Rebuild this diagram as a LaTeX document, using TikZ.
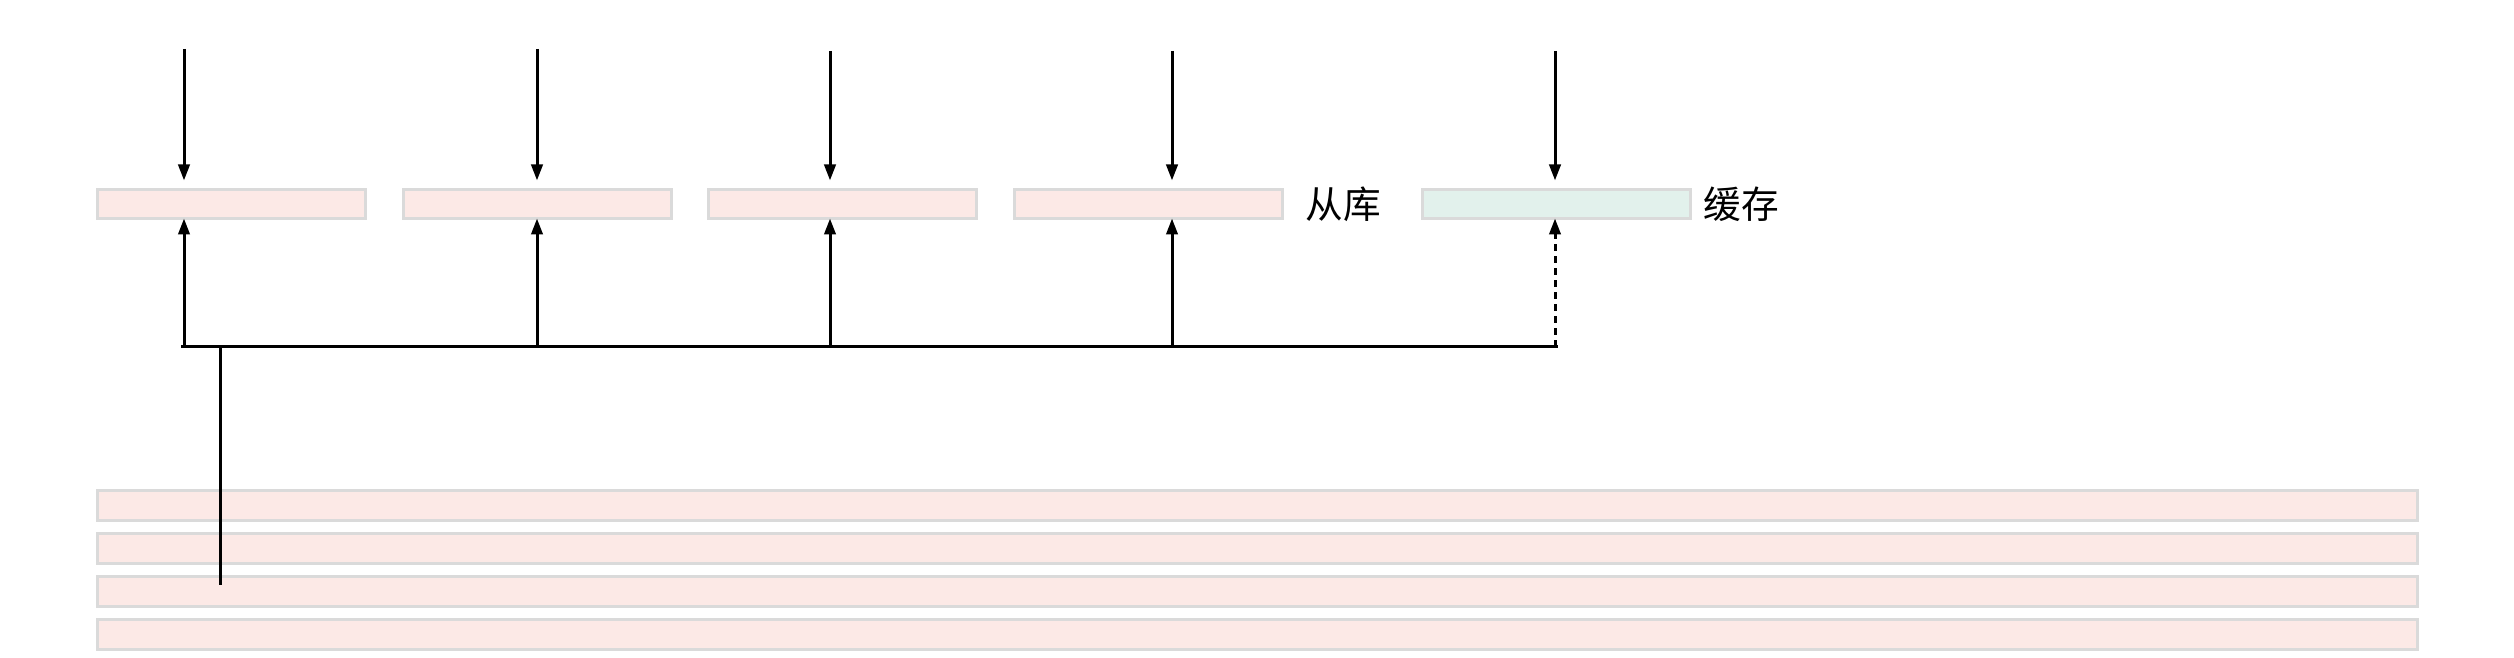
\documentclass[tikz,border=0pt]{standalone}
\usepackage{fontspec}
\newfontfamily\cjk{Noto Sans CJK SC}
\usetikzlibrary{arrows.meta}
\definecolor{pinkfill}{HTML}{FCE9E6}
\definecolor{greenfill}{HTML}{E2F1EC}
\definecolor{boxborder}{HTML}{DADADA}
\tikzset{
  slot/.style={draw=boxborder, line width=0.9pt, minimum width=268*0.3pt, minimum height=29*0.3pt, inner sep=0pt, outer sep=0pt},
  pinkslot/.style={slot, fill=pinkfill},
  greenslot/.style={slot, fill=greenfill},
  longslot/.style={draw=boxborder, line width=0.9pt, fill=pinkfill, minimum width=2320*0.3pt, minimum height=30*0.3pt, inner sep=0pt, outer sep=0pt},
  arr/.style={line width=0.9pt, -{Triangle[length=4.8pt,width=3.4pt]}},
  wire/.style={line width=0.9pt},
  lbl/.style={font=\cjk\fontsize{11.3}{13}\selectfont, anchor=west, inner sep=0pt}
}
\begin{document}
\begin{tikzpicture}[x=0.3pt, y=-0.3pt]
\useasboundingbox (0,0) rectangle (2514,658);
% top row
\node[pinkslot] (b1) at (231.5,204) {};
\node[pinkslot] (b2) at (537,204) {};
\node[pinkslot] (b3) at (842.5,204) {};
\node[pinkslot] (b4) at (1148.5,204) {};
\node[greenslot] (b5) at (1556,204) {};
\node[lbl] (l1) at (1305,204) {从库};
\node[lbl] (l2) at (1703,204) {缓存};
% bottom boxes
\node[longslot] (r1) at (1257.5,506) {};
\node[longslot] (r2) at (1257.5,549) {};
\node[longslot] (r3) at (1257.5,592) {};
\node[longslot] (r4) at (1257.5,635) {};
% top arrows
\coordinate (t1) at (184,49);
\coordinate (t2) at (537,49);
\coordinate (t3) at (830,51);
\coordinate (t4) at (1172,51);
\coordinate (t5) at (1555,51);
\foreach \i in {1,...,5}{
  \draw[arr, shorten >=2.7pt] (t\i) -- (t\i |- b\i.north);
}
% bus
\coordinate (u1) at (184,347);
\coordinate (u2) at (537,347);
\coordinate (u3) at (830,347);
\coordinate (u4) at (1172,347);
\coordinate (u5) at (1555,347);
\coordinate (busL) at (181,347);
\coordinate (busR) at (1558,347);
\draw[wire] (busL) -- (busR);
\foreach \i in {1,...,4}{
  \draw[arr] (u\i) -- (u\i |- b\i.south);
}
\draw[arr, dash pattern=on 2pt off 1.6pt] (u5) -- (u5 |- b5.south);
% feed line
\coordinate (v0) at (220,347);
\coordinate (v1) at (220,585);
\draw[wire] (v0) -- (v1);
\end{tikzpicture}
\end{document}
